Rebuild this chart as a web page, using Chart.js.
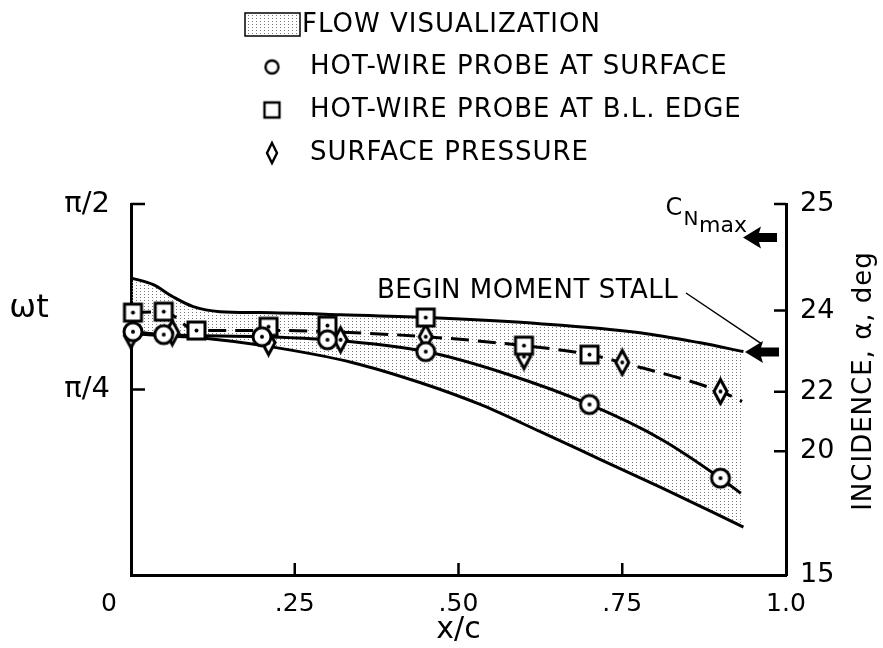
<!DOCTYPE html>
<html>
<head>
<meta charset="utf-8">
<script src="https://cdn.jsdelivr.net/npm/chart.js@4.4.0/dist/chart.umd.min.js"></script>
<style>
  html, body { margin: 0; padding: 0; background: #fff; }
  #wrap { width: 883px; height: 648px; position: relative; }
</style>
</head>
<body>
<div id="wrap"><canvas id="stallChart"></canvas></div>
<script>
// measured points: x/c and phase wt (rad)
const surfaceX = [0.003, 0.05, 0.20, 0.30, 0.45, 0.70, 0.90];
const surfaceWt = [1.030, 1.018, 1.009, 0.996, 0.946, 0.722, 0.410];

const edgeX = [0.003, 0.05, 0.10, 0.21, 0.30, 0.45, 0.60, 0.70];
const edgeWt = [1.111, 1.115, 1.035, 1.051, 1.056, 1.090, 0.971, 0.933];

const pressureX = [0.0, 0.063, 0.21, 0.32, 0.45, 0.60, 0.75, 0.90];
const pressureWt = [1.013, 1.026, 0.984, 0.996, 1.009, 0.925, 0.900, 0.777];

// faired curves
const surfaceCurveX = [0.003, 0.05, 0.20, 0.30, 0.45, 0.576, 0.70, 0.81, 0.90, 0.931];
const surfaceCurveWt = [1.030, 1.018, 1.009, 0.996, 0.946, 0.849, 0.722, 0.574, 0.410, 0.346];

const edgeCurveX = [0.003, 0.05, 0.10, 0.23, 0.30, 0.45, 0.60, 0.70, 0.75, 0.90, 0.933];
const edgeCurveWt = [1.111, 1.115, 1.035, 1.035, 1.030, 1.009, 0.971, 0.933, 0.899, 0.777, 0.735];

// flow visualization band
const flowUpperX = [0, 0.034, 0.064, 0.095, 0.136, 0.197, 0.319, 0.452, 0.624, 0.777, 0.869, 0.935];
const flowUpperWt = [1.258, 1.229, 1.178, 1.136, 1.115, 1.111, 1.102, 1.090, 1.064, 1.026, 0.983, 0.946];
const flowLowerX = [0, 0.049, 0.105, 0.212, 0.339, 0.441, 0.533, 0.624, 0.716, 0.808, 0.935];
const flowLowerWt = [1.022, 1.013, 1.005, 0.967, 0.899, 0.815, 0.722, 0.608, 0.490, 0.372, 0.203];

// axes
const xTickValues = [0, 0.25, 0.5, 0.75, 1.0];
const xTickLabels = ['0', '.25', '.50', '.75', '1.0'];
const phaseTickValues = [Math.PI / 4, Math.PI / 2];
const phaseTickLabels = ['π/4', 'π/2'];
const incidenceTicks = [15, 20, 22, 24, 25];   // alpha = 15 + 10 sin(wt)

const legendLabels = ['FLOW VISUALIZATION', 'HOT-WIRE PROBE AT SURFACE', 'HOT-WIRE PROBE AT B.L. EDGE', 'SURFACE PRESSURE'];
const cnMaxAlpha = 24.9;
const stallAlpha = 23.1;

function pts(xs, ys) {
    return xs.map((x, i) => ({ x: x, y: ys[i] }));
}
function alphaToPhase(a) {
    return Math.asin((a - 15) / 10);
}

Chart.defaults.font.family = "'DejaVu Sans', sans-serif";
Chart.defaults.color = '#000';

const canvas = document.getElementById('stallChart');
const ctx = canvas.getContext('2d');

// stipple pattern for the shaded band
function makeStipple() {
    const t = document.createElement('canvas');
    t.width = 4; t.height = 3;
    const g = t.getContext('2d');
    g.fillStyle = '#7a7a7a';
    g.fillRect(0, 0, 1, 1);
    return ctx.createPattern(t, 'repeat');
}
const stipple = makeStipple();

function makeMarker(shape, w, h, withDot, lw) {
    const c = document.createElement('canvas');
    c.width = w + 6; c.height = h + 6;
    const g = c.getContext('2d');
    const cx = c.width / 2, cy = c.height / 2;
    g.lineWidth = lw || 3;
    g.strokeStyle = '#000';
    g.fillStyle = '#fff';
    g.beginPath();
    if (shape === 'circle') {
        g.arc(cx, cy, w / 2, 0, 2 * Math.PI);
    } else if (shape === 'square') {
        g.rect(cx - w / 2, cy - h / 2, w, h);
    } else {
        g.moveTo(cx, cy - h / 2);
        g.lineTo(cx + w / 2, cy);
        g.lineTo(cx, cy + h / 2);
        g.lineTo(cx - w / 2, cy);
        g.closePath();
    }
    g.fill();
    g.stroke();
    if (withDot) {
        g.fillStyle = '#000';
        g.beginPath();
        g.arc(cx, cy, 2, 0, 2 * Math.PI);
        g.fill();
    }
    return c;
}
const circleMark = makeMarker('circle', 18, 18, true);
const squareMark = makeMarker('square', 17, 17, true);
const diamondMark = makeMarker('diamond', 13, 24, true);

function drawArrow(c, tipX, y) {
    c.beginPath();
    c.moveTo(tipX, y);
    c.lineTo(tipX + 18, y - 11);
    c.lineTo(tipX + 16, y - 4.5);
    c.lineTo(tipX + 34, y - 4.5);
    c.lineTo(tipX + 34, y + 4.5);
    c.lineTo(tipX + 16, y + 4.5);
    c.lineTo(tipX + 18, y + 11);
    c.closePath();
    c.fill();
}

function text(c, str, x, y, size, align, spacing) {
    c.font = size + "px 'DejaVu Sans', sans-serif";
    c.letterSpacing = (spacing || 0) + 'px';
    c.textAlign = align || 'left';
    c.textBaseline = 'middle';
    c.fillText(str, x, y);
    c.letterSpacing = '0px';
}

// ticks inside the frame, titles, legend and the arrows
const decorations = {
    id: 'decorations',
    afterDraw(chart) {
        const c = chart.ctx;
        const area = chart.chartArea;
        const xs = chart.scales.x, yl = chart.scales.y, yr = chart.scales.y2;
        c.save();
        c.strokeStyle = '#000';
        c.fillStyle = '#000';
        c.lineWidth = 2.5;
        c.beginPath();
        xs.ticks.forEach(t => {
            if (t.value <= 0 || t.value >= 1) return;
            const px = xs.getPixelForValue(t.value);
            c.moveTo(px, area.bottom); c.lineTo(px, area.bottom - 12);
        });
        yl.ticks.forEach(t => {
            const py = yl.getPixelForValue(t.value);
            c.moveTo(area.left, py); c.lineTo(area.left + 14, py);
        });
        yr.ticks.forEach(t => {
            if (t.value <= 0) return;
            const py = yr.getPixelForValue(t.value);
            c.moveTo(area.right, py); c.lineTo(area.right - 12, py);
        });
        c.stroke();

        // "0" label sits left of the corner
        text(c, xTickLabels[0], area.left - 22, 604, 25, 'center');

        // axis titles
        text(c, 'ωt', 29, 309, 32, 'center');
        c.save();
        c.translate(864, 381);
        c.rotate(-Math.PI / 2);
        text(c, 'INCIDENCE, α, deg', 0, 0, 26, 'center', 1);
        c.restore();

        // legend
        c.fillStyle = stipple;
        c.fillRect(245, 13, 55, 23);
        c.fillStyle = '#000';
        c.lineWidth = 1.5;
        c.strokeRect(245, 13, 55, 23);
        text(c, legendLabels[0], 302, 25, 26, 'left', 1);
        const legMarks = [makeMarker('circle', 13, 13, false, 2.4), makeMarker('square', 15, 15, false, 2.4), makeMarker('diamond', 10, 20, false, 2.4)];
        const rowsY = [67, 110, 153];
        legMarks.forEach((m, i) => {
            c.drawImage(m, 272 - m.width / 2, rowsY[i] - m.height / 2);
            text(c, legendLabels[i + 1], 310, rowsY[i], 26, 'left', 1);
        });

        // begin moment stall annotation
        const stallY = yr.getPixelForValue(alphaToPhase(stallAlpha));
        text(c, 'BEGIN MOMENT STALL', 377, 291, 26, 'left', 0.5);
        c.lineWidth = 1.5;
        c.beginPath();
        c.moveTo(686, 293);
        c.lineTo(area.right - 24, stallY - 8);
        c.stroke();
        drawArrow(c, area.right - 41, stallY);

        // C_N max
        const cnY = yr.getPixelForValue(alphaToPhase(cnMaxAlpha));
        text(c, 'C', 674, 209, 24, 'center');
        text(c, 'N', 691, 220, 20, 'center');
        text(c, 'max', 723, 226, 22, 'center');
        drawArrow(c, area.right - 43, cnY);
        c.restore();
    }
};

const markerBase = { showLine: false, pointRadius: 9, clip: false, borderColor: '#000' };
const curveBase = { borderColor: '#000', borderWidth: 3, pointRadius: 0, cubicInterpolationMode: 'monotone', fill: false, clip: false };

new Chart(ctx, {
    type: 'line',
    data: {
        datasets: [
            Object.assign({ label: legendLabels[1], data: pts(surfaceX, surfaceWt), pointStyle: circleMark }, markerBase),
            Object.assign({ label: legendLabels[2], data: pts(edgeX, edgeWt), pointStyle: squareMark }, markerBase),
            Object.assign({ label: legendLabels[3], data: pts(pressureX, pressureWt), pointStyle: diamondMark }, markerBase),
            Object.assign({ label: 'edge fairing', data: pts(edgeCurveX, edgeCurveWt), borderDash: [18, 9] }, curveBase),
            Object.assign({ label: 'surface fairing', data: pts(surfaceCurveX, surfaceCurveWt) }, curveBase),
            Object.assign({}, curveBase, { label: legendLabels[0], data: pts(flowUpperX, flowUpperWt), fill: '+1', backgroundColor: stipple }),
            Object.assign({ label: 'flow lower', data: pts(flowLowerX, flowLowerWt) }, curveBase)
        ]
    },
    options: {
        responsive: true,
        maintainAspectRatio: false,
        animation: false,
        events: [],
        layout: { padding: { top: 204, left: 0, right: 0, bottom: 0 } },
        plugins: {
            legend: { display: false },
            tooltip: { enabled: false },
            filler: { drawTime: 'beforeDatasetsDraw' }
        },
        scales: {
            x: {
                type: 'linear', min: 0, max: 1,
                grid: { display: false, drawTicks: false },
                border: { display: true, color: '#000', width: 3 },
                afterBuildTicks: s => { s.ticks = xTickValues.map(v => ({ value: v })); },
                afterFit: s => { s.height = 73; },
                ticks: {
                    autoSkip: false, maxRotation: 0, padding: 14,
                    font: { size: 25 },
                    callback: (v, i) => (i === 0 ? '' : xTickLabels[i])
                },
                title: { display: true, text: 'x/c', font: { size: 30 }, padding: { top: 0, bottom: 0 } }
            },
            y: {
                type: 'linear', position: 'left', min: 0, max: Math.PI / 2,
                grid: { display: false, drawTicks: false },
                border: { display: true, color: '#000', width: 3 },
                afterBuildTicks: s => { s.ticks = phaseTickValues.map(v => ({ value: v })); },
                afterFit: s => { s.width = 131; },
                ticks: {
                    autoSkip: false, padding: 21,
                    font: { size: 29 },
                    callback: (v, i) => phaseTickLabels[i]
                }
            },
            y2: {
                type: 'linear', position: 'right', min: 0, max: Math.PI / 2,
                grid: { display: false, drawTicks: false },
                border: { display: true, color: '#000', width: 3 },
                afterBuildTicks: s => { s.ticks = incidenceTicks.map(a => ({ value: alphaToPhase(a) })); },
                afterFit: s => { s.width = 97; },
                ticks: {
                    autoSkip: false, padding: 14,
                    font: { size: 27 },
                    callback: (v, i) => String(incidenceTicks[i])
                }
            }
        }
    },
    plugins: [decorations]
});
</script>
</body>
</html>
